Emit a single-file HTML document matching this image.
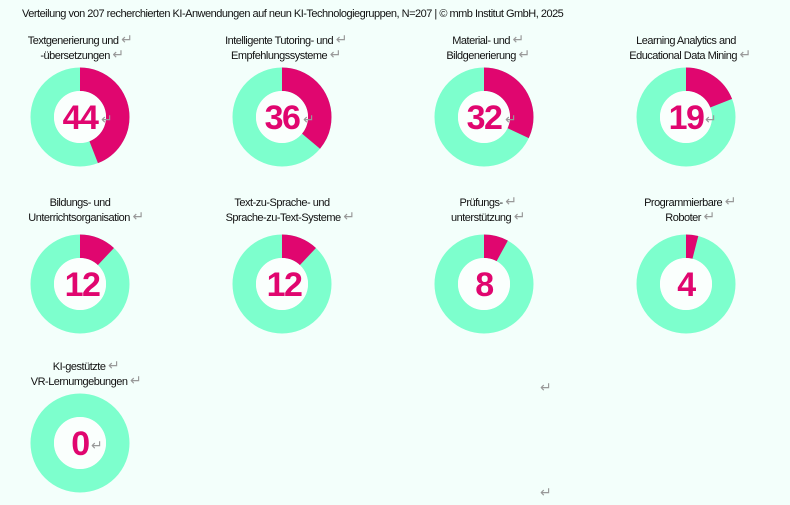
<!DOCTYPE html>
<html><head><meta charset="utf-8"><style>
html,body{margin:0;padding:0;background:#f3fffb;}
svg{display:block;}
text{font-family:"Liberation Sans",sans-serif;}
.t{font-size:11px;fill:#111;letter-spacing:-0.5px;}
.n{font-size:34px;font-weight:bold;fill:#e0066f;letter-spacing:-1.5px;}
.r{font-size:14px;fill:#999;}
</style></head><body>
<svg width="790" height="505" viewBox="0 0 790 505" xmlns="http://www.w3.org/2000/svg">
<rect width="790" height="505" fill="#f3fffb"/>
<text x="22" y="17" class="t">Verteilung von 207 recherchierten KI-Anwendungen auf neun KI-Technologiegruppen, N=207 | © mmb Institut GmbH, 2025</text>

<g fill="none" stroke-width="23.5">
<circle cx="80" cy="117" r="37.75" stroke="#7dffcd"/>
<circle cx="80" cy="117" r="37.75" stroke="#e0066f" stroke-dasharray="104.4 300" transform="rotate(-90 80 117)"/>
<circle cx="282" cy="117" r="37.75" stroke="#7dffcd"/>
<circle cx="282" cy="117" r="37.75" stroke="#e0066f" stroke-dasharray="85.4 300" transform="rotate(-90 282 117)"/>
<circle cx="484" cy="117" r="37.75" stroke="#7dffcd"/>
<circle cx="484" cy="117" r="37.75" stroke="#e0066f" stroke-dasharray="75.9 300" transform="rotate(-90 484 117)"/>
<circle cx="686" cy="117" r="37.75" stroke="#7dffcd"/>
<circle cx="686" cy="117" r="37.75" stroke="#e0066f" stroke-dasharray="45.1 300" transform="rotate(-90 686 117)"/>
<circle cx="80" cy="284" r="37.75" stroke="#7dffcd"/>
<circle cx="80" cy="284" r="37.75" stroke="#e0066f" stroke-dasharray="28.5 300" transform="rotate(-90 80 284)"/>
<circle cx="282" cy="284" r="37.75" stroke="#7dffcd"/>
<circle cx="282" cy="284" r="37.75" stroke="#e0066f" stroke-dasharray="28.5 300" transform="rotate(-90 282 284)"/>
<circle cx="484" cy="284" r="37.75" stroke="#7dffcd"/>
<circle cx="484" cy="284" r="37.75" stroke="#e0066f" stroke-dasharray="19 300" transform="rotate(-90 484 284)"/>
<circle cx="686" cy="284" r="37.75" stroke="#7dffcd"/>
<circle cx="686" cy="284" r="37.75" stroke="#e0066f" stroke-dasharray="9.5 300" transform="rotate(-90 686 284)"/>
<circle cx="80" cy="443" r="37.75" stroke="#7dffcd"/>
</g>
<g fill="#fafffd">
<circle cx="80" cy="117" r="26"/><circle cx="282" cy="117" r="26"/><circle cx="484" cy="117" r="26"/><circle cx="686" cy="117" r="26"/>
<circle cx="80" cy="284" r="26"/><circle cx="282" cy="284" r="26"/><circle cx="484" cy="284" r="26"/><circle cx="686" cy="284" r="26"/>
<circle cx="80" cy="443" r="26"/>
</g>

<g class="n" text-anchor="middle">
<text x="80" y="129">44</text>
<text x="282" y="129">36</text>
<text x="484" y="129">32</text>
<text x="686" y="129">19</text>
<text x="82" y="296">12</text>
<text x="284" y="296">12</text>
<text x="484" y="296">8</text>
<text x="686" y="296">4</text>
<text x="80" y="455">0</text>
</g>
<g class="r">
<text x="101" y="124">↵</text>
<text x="303" y="124">↵</text>
<text x="505" y="124">↵</text>
<text x="705" y="124">↵</text>
<text x="91" y="450">↵</text>
<text x="540" y="392">↵</text>
<text x="540" y="497">↵</text>
</g>

<g class="t" text-anchor="middle">
<text x="80" y="44">Textgenerierung und <tspan class="r">↵</tspan></text>
<text x="82" y="59">-übersetzungen <tspan class="r">↵</tspan></text>
<text x="286" y="44">Intelligente Tutoring- und <tspan class="r">↵</tspan></text>
<text x="286" y="59">Empfehlungssysteme <tspan class="r">↵</tspan></text>
<text x="488" y="44">Material- und <tspan class="r">↵</tspan></text>
<text x="488" y="59">Bildgenerierung <tspan class="r">↵</tspan></text>
<text x="686" y="44">Learning Analytics and</text>
<text x="690" y="59">Educational Data Mining <tspan class="r">↵</tspan></text>

<text x="80" y="206">Bildungs- und</text>
<text x="86" y="221">Unterrichtsorganisation <tspan class="r">↵</tspan></text>
<text x="282" y="206">Text-zu-Sprache- und</text>
<text x="290" y="221">Sprache-zu-Text-Systeme <tspan class="r">↵</tspan></text>
<text x="488" y="206">Prüfungs- <tspan class="r">↵</tspan></text>
<text x="488" y="221">unterstützung <tspan class="r">↵</tspan></text>
<text x="690" y="206">Programmierbare <tspan class="r">↵</tspan></text>
<text x="690" y="221">Roboter <tspan class="r">↵</tspan></text>

<text x="86" y="370">KI-gestützte <tspan class="r">↵</tspan></text>
<text x="86" y="385">VR-Lernumgebungen <tspan class="r">↵</tspan></text>
</g>
</svg>
</body></html>
